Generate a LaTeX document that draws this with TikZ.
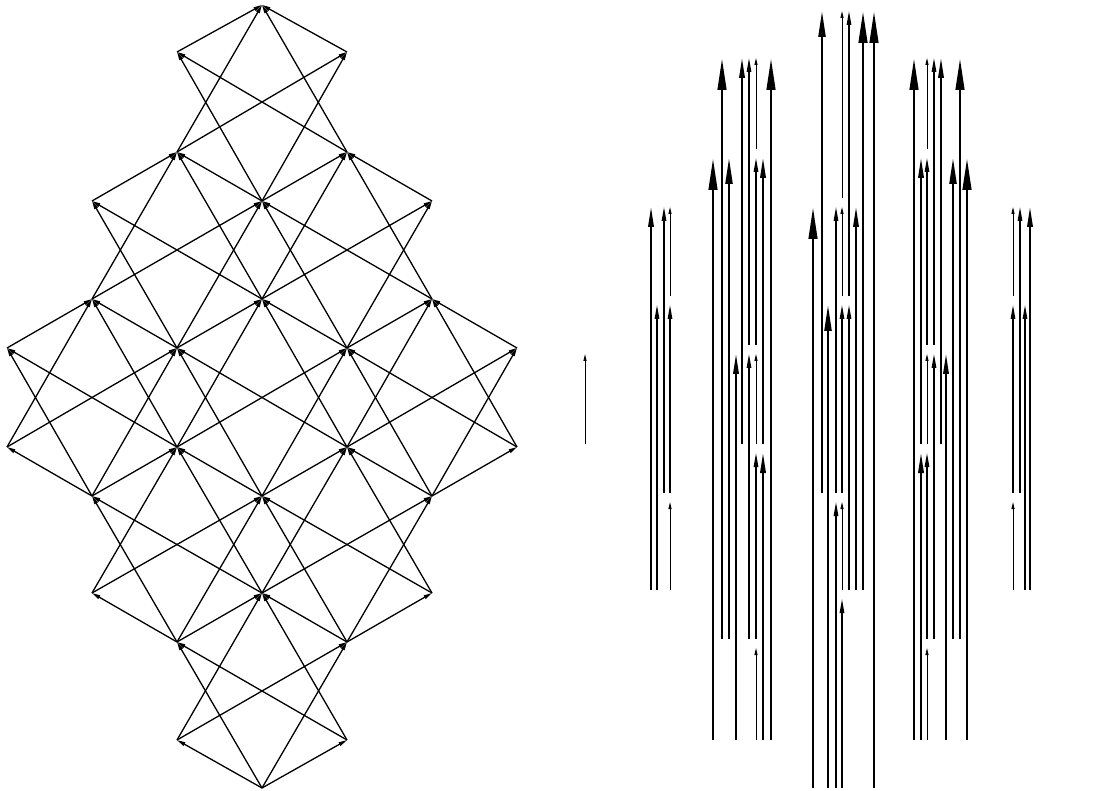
\documentclass[tikz,border=0pt]{standalone}
\usetikzlibrary{arrows.meta}
\begin{document}
\begin{tikzpicture}[x=1pt,y=-1pt,
  lat/.style={line width=1.3pt,-{Triangle[length=8.5pt,width=3.8pt]}},
  ta/.style={line width=0.9pt,-{Triangle[length=7pt,width=3pt]}},
  tb/.style={line width=1.3pt,-{Triangle[length=14pt,width=4.5pt]}},
  tc/.style={line width=1.8pt,-{Triangle[length=20pt,width=5.5pt]}},
  td/.style={line width=2.2pt,-{Triangle[length=26pt,width=7pt]}},
  te/.style={line width=2.8pt,-{Triangle[length=32pt,width=8.5pt]}}]
\fill[white] (0,0) rectangle (1095,791);
\useasboundingbox (0,0) rectangle (1095,791);
\def\LY{{5,52,0,152,201,0,299,348,0,447,496,0,593,642,0,740,788}}
% outer steep pairs that are not joined
\foreach \s in {1-4-2-1,0-7-1-4,5-4-4-1,6-7-5-4,1-12-0-9,2-15-1-12,5-12-6-9,4-15-5-12}{
  \expandafter\gdef\csname skip-\s\endcsname{}
}
% lattice points
\foreach \c/\L in {3/0,2/1,4/1,2/3,4/3,1/4,3/4,5/4,1/6,3/6,5/6,0/7,2/7,4/7,6/7,
  0/9,2/9,4/9,6/9,1/10,3/10,5/10,1/12,3/12,5/12,2/13,4/13,2/15,4/15,3/16}{
  \pgfmathsetmacro\px{7+85*\c}
  \pgfmathsetmacro\py{\LY[\L]}
  \coordinate (p-\c-\L) at (\px,\py);
}
% lattice edges (from lower point up to upper point)
\foreach \c/\L in {3/0,2/1,4/1,2/3,4/3,1/4,3/4,5/4,1/6,3/6,5/6,0/7,2/7,4/7,6/7,
  0/9,2/9,4/9,6/9,1/10,3/10,5/10,1/12,3/12,5/12,2/13,4/13,2/15,4/15,3/16}{
  \foreach \dc/\dl in {-1/1,1/1,-2/2,2/2,-1/3,1/3}{
    \pgfmathtruncatemacro\cc{\c+\dc}
    \pgfmathtruncatemacro\ll{\L+\dl}
    \ifcsname pgf@sh@ns@p-\cc-\ll\endcsname
      \ifcsname skip-\cc-\ll-\c-\L\endcsname\else
        \draw[lat] (p-\cc-\ll) -- (p-\c-\L);
      \fi
    \fi
  }
}
% vertical arrows
\foreach \x/\b/\t/\s [count=\i] in {
  585/9/7/ta,
  651/12/4/tc, 657/12/6/tb, 664/10/4/tb, 670/6/4/ta, 670/10/6/tb, 670/12/10/ta,
  713/15/3/te, 722/13/1/te, 729/13/3/td, 736/15/7/tc, 742/9/1/tc,
  749/7/1/tb, 749/13/7/tb, 756/3/1/ta, 756/7/3/tb, 756/9/7/ta, 756/13/9/tb,
  756/15/13/ta, 763/9/3/tc, 763/15/9/tc, 771/15/1/te,
  813/16/4/te, 822/10/0/td, 828/16/6/td, 836/10/4/tb, 836/16/10/tb,
  842/4/0/ta, 842/6/4/ta, 842/10/6/tb, 842/12/10/ta, 842/16/12/tb,
  849/6/0/tb, 849/12/6/tb, 856/12/4/tc, 863/12/0/te, 874/16/0/te,
  914/15/1/te, 921/9/3/tc, 921/15/9/tc, 927/3/1/ta, 927/7/3/tb, 927/9/7/ta,
  927/13/9/tb, 927/15/13/ta, 934/7/1/tb, 934/13/7/tb, 941/9/1/tc,
  946/15/7/tc, 953/13/3/td, 960/13/1/te, 967/15/3/te,
  1013/6/4/ta, 1013/10/6/tb, 1013/12/10/ta, 1020/10/4/tb, 1025/12/6/tb, 1030/12/4/tc}{
  \pgfmathsetmacro\yb{\LY[\b]-(\b<15 ? 3 : 0)}
  \pgfmathsetmacro\yt{\LY[\t]+6}
  \coordinate (r\i-b) at (\x,\yb);
  \coordinate (r\i-t) at (\x,\yt);
  \draw[\s] (r\i-b) -- (r\i-t);
}
\end{tikzpicture}
\end{document}
